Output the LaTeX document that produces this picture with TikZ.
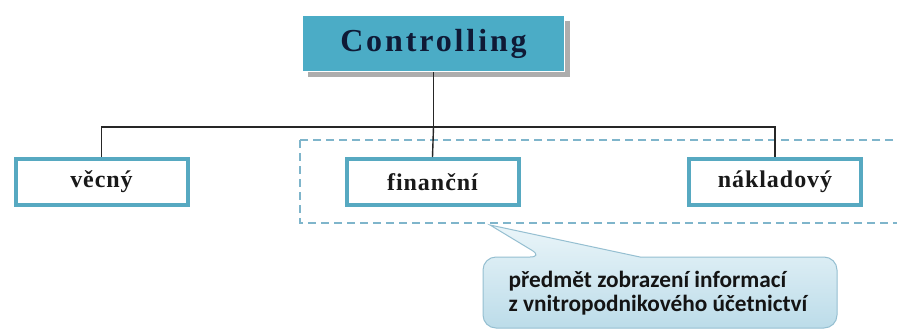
\documentclass[tikz,border=0pt]{standalone}
\usepackage{fontspec}
\setmainfont{Liberation Serif}
\newfontfamily\headfont[LetterSpace=9]{Liberation Serif}
\newfontfamily\boxfont[LetterSpace=4]{Liberation Serif}
\newfontfamily\notefont{Carlito}
\usetikzlibrary{shadows}
\definecolor{accent}{HTML}{4BACC6}
\definecolor{frame}{HTML}{57A9C1}
\definecolor{dashc}{HTML}{7FB5CB}
\definecolor{inkhead}{HTML}{0F1A36}
\definecolor{notetop}{HTML}{EAF5F9}
\definecolor{notebot}{HTML}{BCDCE9}
\definecolor{noteline}{HTML}{95BFD1}
\tikzset{
  headbox/.style={fill=accent, draw=white, line width=1pt,
    minimum width=262pt, minimum height=56pt, inner sep=0pt,
    drop shadow={shadow xshift=5pt, shadow yshift=-5pt, fill=black!40, opacity=.8},
    font=\headfont\bfseries\fontsize{32}{34}\selectfont, text=inkhead},
  catbox/.style={draw=frame, line width=4pt, fill=white,
    minimum width=172pt, minimum height=46pt, inner sep=0pt,
    font=\boxfont\bfseries\fontsize{24}{28}\selectfont, text=black!90},
  link/.style={draw=black!85, line width=1.4pt},
  groupline/.style={draw=dashc, line width=1.5pt, dash pattern=on 8pt off 5pt},
  callout/.style={top color=notetop, bottom color=notebot, draw=noteline, line width=1pt},
  notetext/.style={font=\notefont\bfseries\fontsize{23.3}{24}\selectfont, text=black!92,
    align=left, inner sep=0pt}
}
\begin{document}
\begin{tikzpicture}[x=1pt, y=-1pt]
  \useasboundingbox[fill=white] (0,0) rectangle (897,330);

  % grouping frame around the financial branches
  \draw[groupline] (300,140) rectangle (910,223);

  % root and the three kinds
  \node[headbox] (root) at (433.5,43.5) {Controlling};
  \node[catbox] (vec) at (101.5,181.5) {věcný};
  \node[catbox] (fin) at (432.5,182) {finanční};
  \node[catbox] (nak) at (775,182) {nákladový};

  % tree connectors
  \coordinate (bus) at (433.5,127);
  \draw[link] (root.south) -- (bus);
  \draw[link] (vec.north) |- (bus) -| (nak.north);
  \draw[link] (bus) -- (fin.north);

  % speech bubble with its tail pointing at the frame
  \path[callout] (543,257) -- (490,225) -- (640,257)
    [rounded corners=13pt] -- (837,257) -- (837,328) -- (483,328) -- (483,257) -- cycle;
  \node[notetext] (note) at (658,293) {předmět zobrazení informací\\z vnitropodnikového účetnictví};
\end{tikzpicture}
\end{document}
